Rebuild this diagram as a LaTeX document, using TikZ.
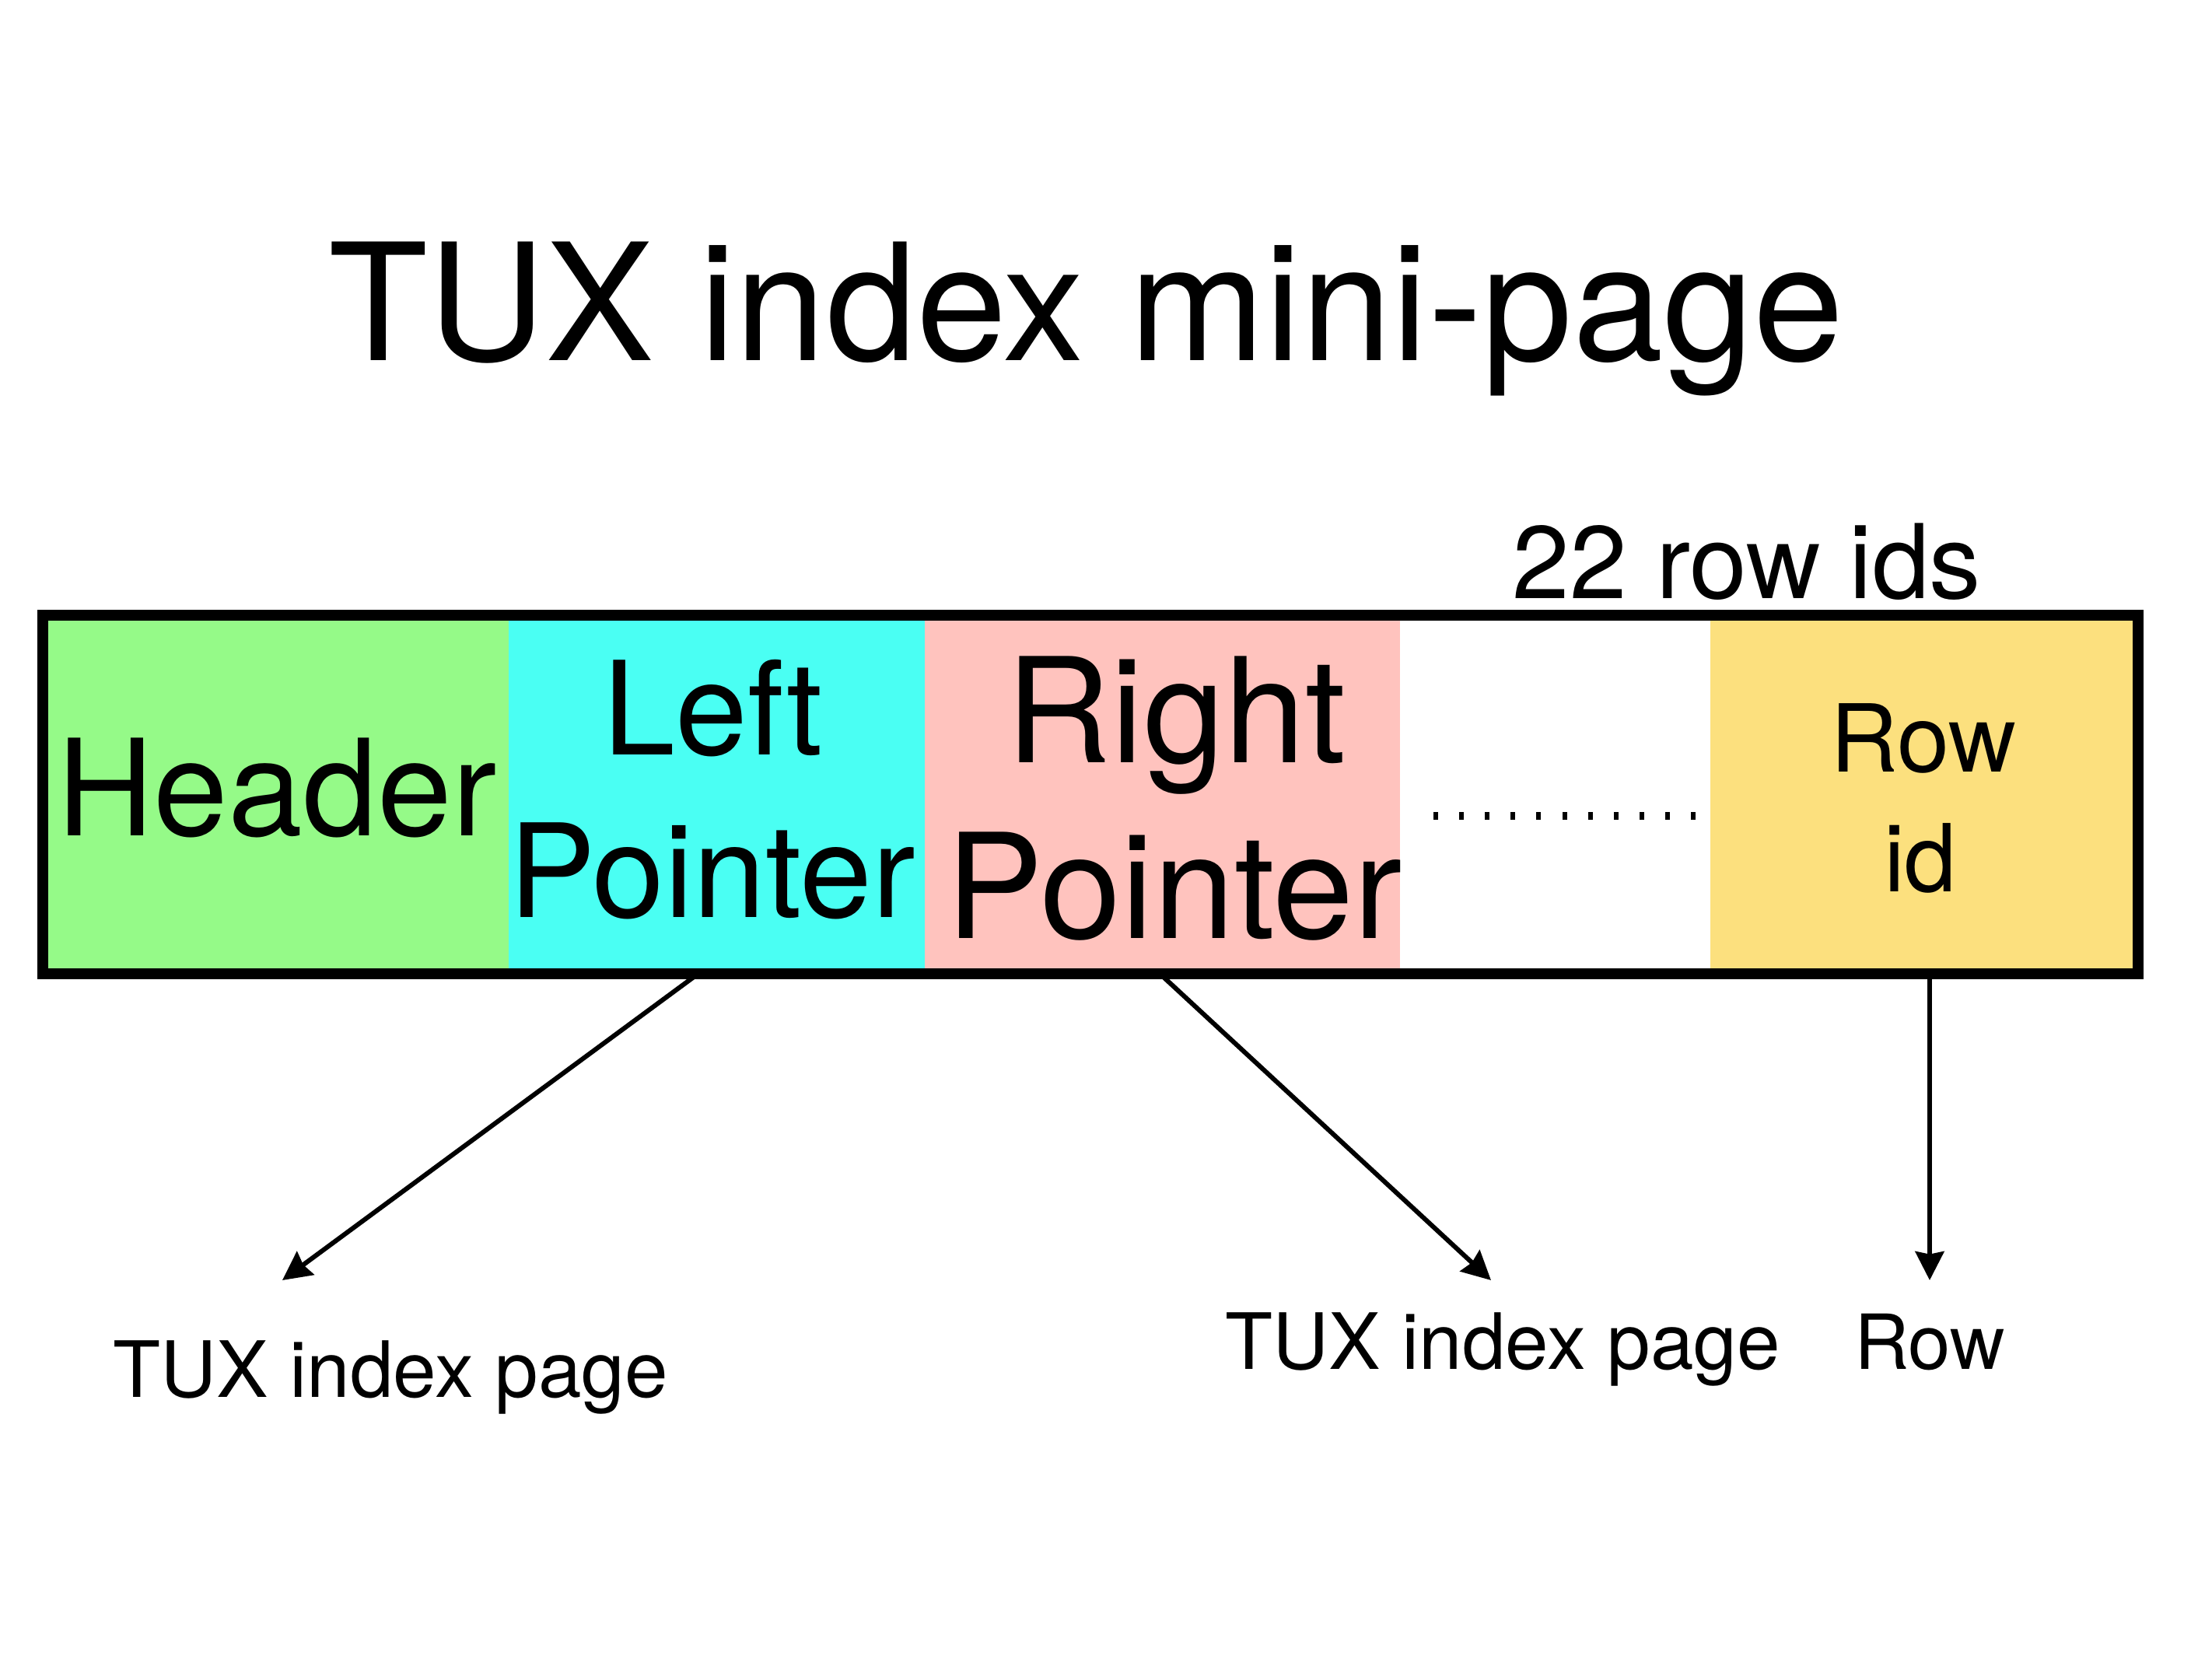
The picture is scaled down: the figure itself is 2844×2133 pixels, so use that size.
\documentclass[tikz,border=0pt]{standalone}
\usepackage{fontspec}
\setmainfont{TeX Gyre Heros}
\usetikzlibrary{arrows.meta,calc}
\definecolor{hdrgreen}{HTML}{95FA88}
\definecolor{lpcyan}{HTML}{4AFFF3}
\definecolor{rppink}{HTML}{FFC3BE}
\definecolor{rowyellow}{HTML}{FCE07E}
\newcommand{\fsz}[1]{\fontsize{#1}{#1}\selectfont}
\tikzset{
  cell/.style={draw=none, inner sep=0, minimum height=4.59cm, anchor=north west},
  txt/.style={anchor=base, inner sep=0, text=black},
  frame/.style={draw=black, line width=4pt},
  conn/.style={draw=black, line width=1.7pt, -{Stealth[length=10.5pt, width=10.5pt, inset=1pt]}},
}
\begin{document}
\begin{tikzpicture}[x=0.01cm, y=-0.01cm]
\useasboundingbox (0,0) rectangle (2844,2133);
\fill[white] (0,0) rectangle (2844,2133);

% title
\node[txt] (title) at (1397,463) {\fsz{59.5pt}TUX index mini-page};
\node[txt] (rowids) at (2246,769) {\fsz{37.7pt}22 row ids};

% cells
\node[cell, fill=hdrgreen, minimum width=5.98cm] (hdr) at (55,791) {};
\node[cell, fill=lpcyan, minimum width=5.35cm] (lp) at (653,791) {};
\node[cell, fill=rppink, minimum width=6.11cm] (rp) at (1188,791) {};
\node[cell, fill=white, minimum width=3.99cm] (gap) at (1799,791) {};
\node[cell, fill=rowyellow, minimum width=5.49cm] (rid) at (2198,791) {};
\draw[frame] (hdr.north west) rectangle (rid.south east);

% cell texts
\node[txt] (hdrt) at (356,1074) {\fsz{49pt}Header};
\node[txt] (lpt1) at (917,970) {\fsz{47.5pt}Left};
\node[txt] (lpt2) at (916,1179) {\fsz{47.5pt}Pointer};
\node[txt] (rpt1) at (1512,980) {\fsz{53.3pt}Right};
\node[txt] (rpt2) at (1510,1206) {\fsz{53.3pt}Pointer};
\node[txt] (ridt1) at (2473,992) {\fsz{34.3pt}Row};
\node[txt] (ridt2) at (2469,1146) {\fsz{34.3pt}id};

% dots
\foreach \i in {0,...,10}
  \fill[black] ({1846+33.1*\i-3},1044) rectangle ++(6,10);

% labels
\node[txt] (lbl1) at (502,1796) {\fsz{28.4pt}TUX index page};
\node[txt] (lbl2) at (1932,1760) {\fsz{28.4pt}TUX index page};
\node[txt] (lbl3) at (2481,1760) {\fsz{27.8pt}Row};

% connectors
\coordinate (a1s) at ($(lp.south west)+(245,0)$);
\coordinate (a1e) at (363,1646);
\coordinate (a2s) at ($(rp.south west)+(303,0)$);
\coordinate (a2e) at (1917,1646);
\coordinate (a3s) at ($(rid.south west)+(283,0)$);
\coordinate (a3e) at (2481,1646);
\draw[conn] (a1s) -- (a1e);
\draw[conn] (a2s) -- (a2e);
\draw[conn] (a3s) -- (a3e);
\end{tikzpicture}
\end{document}
